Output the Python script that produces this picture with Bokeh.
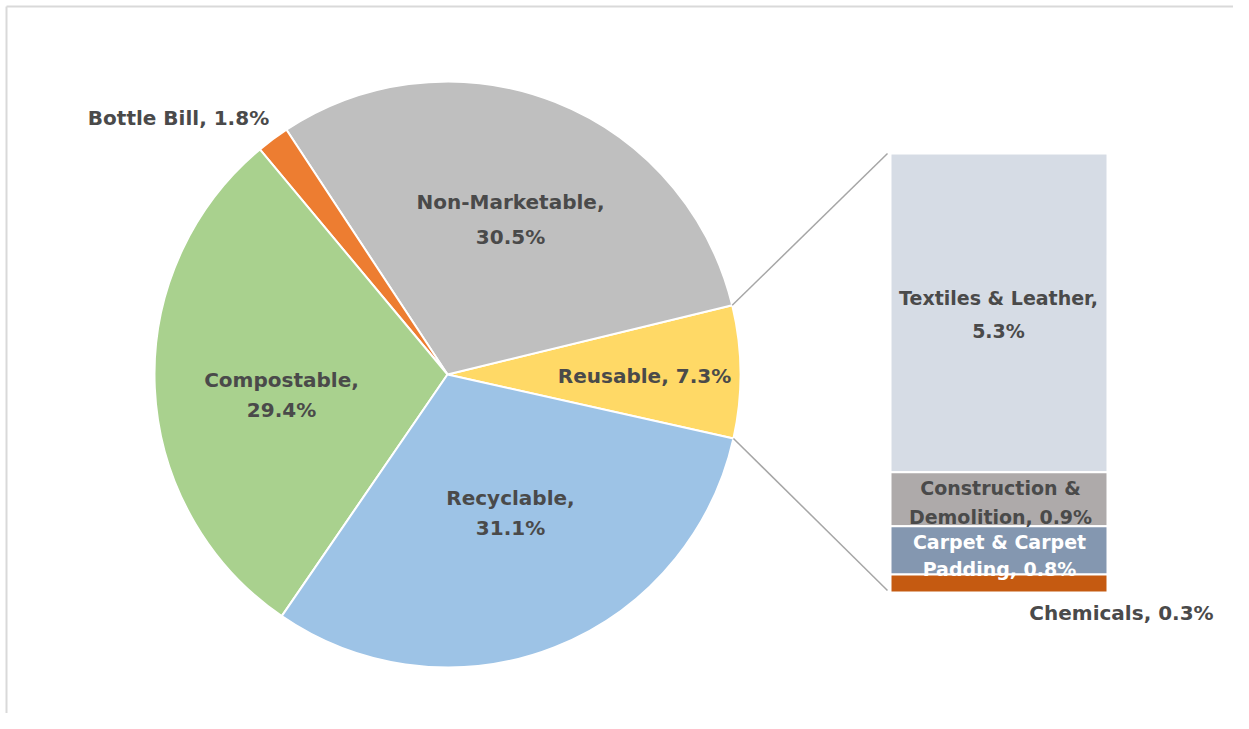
import math
from bokeh.plotting import figure
from bokeh.models import ColumnDataSource, Range1d
from bokeh.core.properties import value
from bokeh.embed import file_html
from bokeh.resources import INLINE

# ---- data ----
categories = ["Reusable", "Non-Marketable", "Bottle Bill", "Compostable", "Recyclable"]
shares = [7.3, 30.5, 1.8, 29.4, 31.1]
pie_colors = ["#FFD966", "#BFBFBF", "#ED7D31", "#A9D18E", "#9DC3E6"]

sub_categories = ["Textiles & Leather", "Construction & Demolition", "Carpet & Carpet Padding", "Chemicals"]
sub_shares = [5.3, 0.9, 0.8, 0.3]
sub_colors = ["#D6DCE5", "#AEAAAA", "#8497B0", "#C55A11"]

# ---- layout ----
W, H = 1233, 713


def sy(y):
    """screen y -> data y"""
    return H - y


CX, CY, R = 447, sy(374), 293
START_DEG = -12.6
BAR_L, BAR_R, BAR_TOP, BAR_BOT = 890, 1107, sy(153), sy(592)
FONT = value("DejaVu Sans")
TXT = "#4a4a4a"

p = figure(width=W, height=H, output_backend="svg", toolbar_location=None,
           x_range=Range1d(0, W), y_range=Range1d(0, H),
           min_border=0)
p.axis.visible = False
p.grid.visible = False
p.outline_line_color = None
p.background_fill_color = "white"
p.border_fill_color = "white"

# light frame (top and left edges, as in the source image)
p.segment(x0=[6, 6], y0=[sy(6), sy(6)], x1=[W, 6], y1=[sy(6), 0],
          line_color="#D9D9D9", line_width=2)

# pie
total = sum(shares)
starts, ends = [], []
a = math.radians(START_DEG)
for s in shares:
    starts.append(a)
    a += s / total * 2 * math.pi
    ends.append(a)
src = ColumnDataSource(dict(cat=categories, start=starts, end=ends, color=pie_colors))
p.wedge(x=CX, y=CY, radius=R, start_angle="start", end_angle="end", color="color",
        line_color="white", line_width=2, direction="anticlock", source=src)

# stacked bar
scale = (BAR_TOP - BAR_BOT) / sum(sub_shares)
tops, bots = [], []
y = BAR_TOP
for s in sub_shares:
    tops.append(y)
    y -= s * scale
    bots.append(y)
bsrc = ColumnDataSource(dict(cat=sub_categories, top=tops, bottom=bots, color=sub_colors))
p.quad(left=BAR_L, right=BAR_R, top="top", bottom="bottom", color="color",
       line_color="white", line_width=2, source=bsrc)

# connector lines
a0, a1 = starts[0], ends[0]
p.segment(x0=[CX + R * math.cos(a1), CX + R * math.cos(a0)],
          y0=[CY + R * math.sin(a1), CY + R * math.sin(a0)],
          x1=[BAR_L - 3, BAR_L - 3], y1=[BAR_TOP, BAR_BOT + 2],
          line_color="#A6A6A6", line_width=1.5)

# labels
def lbl(x, y, t, size="20px", color=TXT):
    p.text(x=[x], y=[sy(y)], text=[t], text_align="center", text_baseline="middle",
           text_font=FONT, text_font_style="bold", text_font_size=size, text_color=color)

lbl(510, 201, f"{categories[1]},")
lbl(510, 236, f"{shares[1]}%")
lbl(178, 117, f"{categories[2]}, {shares[2]}%")
lbl(281, 379, f"{categories[3]},")
lbl(281, 409, f"{shares[3]}%")
lbl(644, 375, f"{categories[0]}, {shares[0]}%")
lbl(510, 497, f"{categories[4]},")
lbl(510, 527, f"{shares[4]}%")

lbl(998, 297, "Textiles & Leather,", size="19px")
lbl(998, 330, f"{sub_shares[0]}%", size="19px")
lbl(1000, 487, "Construction &", size="19px")
lbl(1000, 516, f"Demolition, {sub_shares[1]}%", size="19px")
lbl(999, 541, "Carpet & Carpet", size="19px", color="white")
lbl(999, 568, f"Padding, {sub_shares[2]}%", size="19px", color="white")
lbl(1121, 612, f"{sub_categories[3]}, {sub_shares[3]}%")

open("out.html", "w").write(file_html(p, INLINE))
